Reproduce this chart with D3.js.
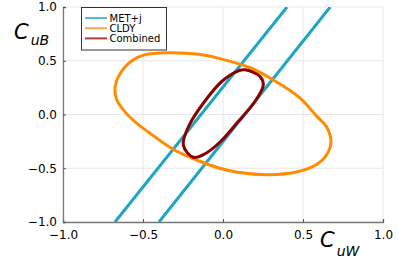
<!DOCTYPE html>
<html>
<head>
<meta charset="utf-8">
<script src="https://cdn.jsdelivr.net/npm/d3@7"></script>
<style>
  body { margin: 0; background: #fff; }
  text { font-family: "DejaVu Sans", sans-serif; }
</style>
</head>
<body>
<script>
var width = 399,
    height = 266;

// MET+j band edges (C_uW, C_uB)
var metLow = [[-0.675, -1.0], [0.40, 1.0]];
var metHigh = [[-0.40, -1.0], [0.67, 1.0]];

// CLDY contour (C_uW, C_uB)
var cldy = [
  [-0.675, 0.25], [-0.635, 0.40], [-0.56, 0.51], [-0.49, 0.555], [-0.35, 0.575],
  [-0.15, 0.56], [-0.02, 0.52], [0.17, 0.435], [0.31, 0.325], [0.48, 0.155],
  [0.585, -0.015], [0.645, -0.11], [0.675, -0.25], [0.65, -0.37], [0.585, -0.465],
  [0.46, -0.535], [0.29, -0.56], [0.10, -0.54], [-0.02, -0.50], [-0.145, -0.435],
  [-0.31, -0.325], [-0.46, -0.17], [-0.54, -0.08], [-0.61, 0.02], [-0.665, 0.14]
];

// Combined contour (C_uW, C_uB)
var combined = [
  [0.1375, 0.416], [0.231, 0.353], [0.252, 0.276], [0.2, 0.121], [0.095, -0.065],
  [-0.015, -0.251], [-0.1125, -0.365], [-0.185, -0.398], [-0.248, -0.285], [-0.21, -0.096],
  [-0.115, 0.121], [-0.008, 0.307], [0.096, 0.406]
];

var tickValues = [-1.0, -0.5, 0.0, 0.5, 1.0];
var legendNames = ["MET+j", "CLDY", "Combined"];
var colors = ["#1fa5c2", "#ff8c00", "#8b0000"];

var svg = d3.select("body")
            .append("svg")
            .attr("width", width)
            .attr("height", height);

var x = d3.scaleLinear().domain([-1, 1]).range([63, 383]);
var y = d3.scaleLinear().domain([-1, 1]).range([222, 7]);

// grid
var grid = svg.append("g");
grid.selectAll(".gx")
    .data(tickValues)
    .enter()
    .append("line")
    .attr("x1", function(d) { return x(d); })
    .attr("x2", function(d) { return x(d); })
    .attr("y1", y(-1))
    .attr("y2", y(1))
    .attr("stroke", "#e8e8e8")
    .attr("stroke-width", 1);
grid.selectAll(".gy")
    .data(tickValues)
    .enter()
    .append("line")
    .attr("y1", function(d) { return y(d); })
    .attr("y2", function(d) { return y(d); })
    .attr("x1", x(-1))
    .attr("x2", x(1))
    .attr("stroke", "#e8e8e8")
    .attr("stroke-width", 1);

svg.append("clipPath")
   .attr("id", "clip")
   .append("rect")
   .attr("x", 63).attr("y", 7)
   .attr("width", 320).attr("height", 215);

var plot = svg.append("g").attr("clip-path", "url(#clip)");

var straightLine = d3.line()
    .x(function(d) { return x(d[0]); })
    .y(function(d) { return y(d[1]); });

var closedLine = d3.line()
    .x(function(d) { return x(d[0]); })
    .y(function(d) { return y(d[1]); })
    .curve(d3.curveCatmullRomClosed.alpha(0.5));

[metLow, metHigh].forEach(function(pts) {
  plot.append("path")
      .attr("d", straightLine(pts))
      .attr("fill", "none")
      .attr("stroke", colors[0])
      .attr("stroke-width", 3);
});

plot.append("path")
    .attr("d", closedLine(cldy))
    .attr("fill", "none")
    .attr("stroke", colors[1])
    .attr("stroke-width", 3);

plot.append("path")
    .attr("d", closedLine(combined))
    .attr("fill", "none")
    .attr("stroke", colors[2])
    .attr("stroke-width", 3);

// axes
var xAxis = svg.append("g")
    .attr("transform", "translate(0," + y(-1) + ")")
    .call(d3.axisBottom(x).tickValues(tickValues).tickSize(-3).tickPadding(6)
          .tickFormat(d3.format(".1f")));
var yAxis = svg.append("g")
    .attr("transform", "translate(" + x(-1) + ",0)")
    .call(d3.axisLeft(y).tickValues(tickValues).tickSize(-3).tickPadding(6)
          .tickFormat(d3.format(".1f")));

[xAxis, yAxis].forEach(function(a) {
  a.select(".domain").attr("stroke", "#7a7a7a").attr("stroke-width", 1.3);
  a.selectAll(".tick line").attr("stroke", "#555");
  a.selectAll(".tick text")
   .attr("font-size", "12px")
   .attr("font-family", "DejaVu Sans, sans-serif")
   .attr("fill", "#000");
});
xAxis.selectAll(".tick text").attr("dy", "0.9em");

// axis titles
var xt = svg.append("text")
    .attr("x", 320)
    .attr("y", 247)
    .attr("font-family", "Liberation Serif, serif")
    .attr("font-style", "italic")
    .attr("font-size", "21px");
xt.append("tspan").text("C");
xt.append("tspan").attr("dx", 2).attr("dy", 9).attr("font-size", "14px").text("uW");

var yt = svg.append("text")
    .attr("x", 14)
    .attr("y", 39)
    .attr("font-family", "Liberation Serif, serif")
    .attr("font-style", "italic")
    .attr("font-size", "21px");
yt.append("tspan").text("C");
yt.append("tspan").attr("dx", 2).attr("dy", 6).attr("font-size", "14px").text("uB");

// legend
var legend = svg.append("g");
legend.append("rect")
      .attr("x", 81.5).attr("y", 7.5)
      .attr("width", 85).attr("height", 42.5)
      .attr("fill", "#fff")
      .attr("stroke", "#333")
      .attr("stroke-width", 1);

var item = legend.selectAll(".item")
    .data(legendNames)
    .enter()
    .append("g")
    .attr("transform", function(d, i) {
        return "translate(0," + (18 + i * 10.2) + ")";
    });
item.append("line")
    .attr("x1", 85).attr("x2", 107)
    .attr("y1", 0).attr("y2", 0)
    .attr("stroke", function(d, i) { return colors[i]; })
    .attr("stroke-width", 2)
    .attr("opacity", 0.75);
item.append("text")
    .attr("x", 109.5)
    .attr("y", 0)
    .attr("dy", "0.35em")
    .attr("font-size", "10px")
    .attr("fill", "#000")
    .text(function(d) { return d; });
</script>
</body>
</html>
